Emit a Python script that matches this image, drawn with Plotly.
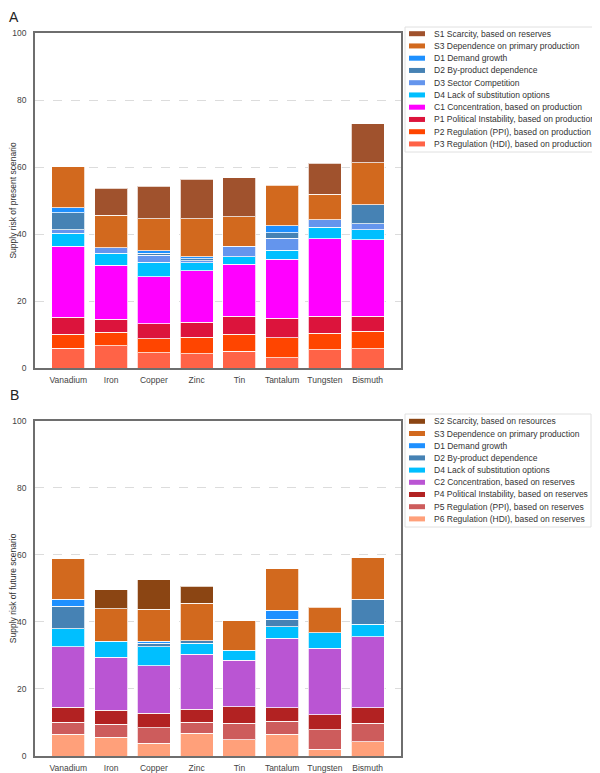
import plotly.graph_objects as go

metals = ["Vanadium", "Iron", "Copper", "Zinc", "Tin", "Tantalum", "Tungsten", "Bismuth"]

# ---- Present scenario (A), stacking order bottom -> top ----
p3_hdi_prod = [5.9, 6.6, 4.5, 4.3, 5.0, 3.0, 5.5, 5.7]
p2_ppi_prod = [4.2, 4.0, 4.3, 4.9, 5.1, 6.1, 4.9, 5.2]
p1_pol_prod = [5.0, 4.0, 4.4, 4.4, 5.3, 5.8, 5.0, 4.5]
c1_conc_prod = [21.2, 16.1, 14.1, 15.5, 15.5, 17.6, 23.2, 22.9]
d4_subst_a = [3.9, 3.5, 4.3, 2.3, 2.3, 2.7, 3.4, 2.9]
d3_sector = [1.0, 1.7, 2.0, 0.6, 3.2, 3.5, 2.3, 1.9]
d2_byprod_a = [5.2, 0.0, 0.6, 0.6, 0.0, 1.7, 0.0, 5.6]
d1_demand_a = [1.5, 0.0, 0.8, 0.6, 0.0, 2.0, 0.0, 0.0]
s3_primary_a = [12.2, 9.7, 9.6, 11.3, 8.8, 12.2, 7.5, 12.5]
s1_scarcity = [0.0, 8.1, 9.6, 11.8, 11.6, 0.0, 9.3, 11.7]

# ---- Future scenario (B), stacking order bottom -> top ----
p6_hdi_res = [6.5, 5.6, 3.8, 6.8, 4.8, 6.5, 2.0, 4.3]
p5_ppi_res = [3.5, 3.8, 4.6, 3.2, 4.9, 3.9, 5.8, 5.4]
p4_pol_res = [4.5, 4.3, 4.3, 3.9, 5.0, 4.0, 4.5, 4.7]
c2_conc_res = [18.1, 15.8, 14.2, 16.5, 13.9, 20.7, 19.9, 21.1]
d4_subst_b = [5.3, 4.7, 5.7, 3.2, 3.0, 3.5, 4.5, 3.8]
d2_byprod_b = [6.8, 0.0, 1.0, 0.7, 0.0, 2.2, 0.0, 7.5]
d1_demand_b = [2.1, 0.0, 0.6, 0.0, 0.0, 2.6, 0.0, 0.0]
s3_primary_b = [12.1, 9.7, 9.6, 11.3, 8.8, 12.4, 7.6, 12.4]
s2_scarcity = [0.0, 5.7, 8.7, 5.0, 0.0, 0.0, 0.0, 0.0]

series_a = [
    ("P3 Regulation (HDI), based on production", p3_hdi_prod, "#FF6347"),
    ("P2 Regulation (PPI), based on production", p2_ppi_prod, "#FF4500"),
    ("P1 Political Instability, based on production", p1_pol_prod, "#DC143C"),
    ("C1 Concentration, based on production", c1_conc_prod, "#FF00FF"),
    ("D4 Lack of substitution options", d4_subst_a, "#00BFFF"),
    ("D3 Sector Competition", d3_sector, "#6495ED"),
    ("D2 By-product dependence", d2_byprod_a, "#4682B4"),
    ("D1 Demand growth", d1_demand_a, "#1E90FF"),
    ("S3 Dependence on primary production", s3_primary_a, "#D2691E"),
    ("S1 Scarcity, based on reserves", s1_scarcity, "#A0522D"),
]
series_b = [
    ("P6 Regulation (HDI), based on reserves", p6_hdi_res, "#FFA07A"),
    ("P5 Regulation (PPI), based on reserves", p5_ppi_res, "#CD5C5C"),
    ("P4 Political Instability, based on reserves", p4_pol_res, "#B22222"),
    ("C2 Concentration, based on reserves", c2_conc_res, "#BA55D3"),
    ("D4 Lack of substitution options", d4_subst_b, "#00BFFF"),
    ("D2 By-product dependence", d2_byprod_b, "#4682B4"),
    ("D1 Demand growth", d1_demand_b, "#1E90FF"),
    ("S3 Dependence on primary production", s3_primary_b, "#D2691E"),
    ("S2 Scarcity, based on resources", s2_scarcity, "#8B4513"),
]

y_titles = ["Supply risk of present scenario", "Supply risk of future scenario"]
panel_letters = ["A", "B"]

# page is rendered with the default 8px body margin: figure sized to fill the rest
OFF = 8
W, H = 600 - OFF, 773 - OFF
PLOT_L, PLOT_R, PLOT_T, PLOT_B = 35, 401, 33, 756   # page pixel coords of plot area
ML = PLOT_L - OFF
MR = W - (PLOT_R - OFF)
MT = PLOT_T - OFF
MB = H - (PLOT_B - OFF)
PW = W - ML - MR
PH = H - MT - MB


def px_x(x):
    return (x - OFF - ML) / PW


def px_y(y):
    return (H - MB - (y - OFF)) / PH


FONT = "Liberation Sans, Arial, sans-serif"
FS = 8.5

fig = go.Figure()
for name, vals, col in series_a:
    fig.add_trace(go.Bar(
        x=metals, y=[v if v > 0 else None for v in vals], name=name,
        marker=dict(color=col, line=dict(color="rgba(255,255,255,0.75)", width=1)),
        xaxis="x", yaxis="y", showlegend=False,
    ))
for name, vals, col in series_b:
    fig.add_trace(go.Bar(
        x=metals, y=[v if v > 0 else None for v in vals], name=name,
        marker=dict(color=col, line=dict(color="rgba(255,255,255,0.75)", width=1)),
        xaxis="x2", yaxis="y2", showlegend=False,
    ))

axis_common = dict(showline=True, mirror=True, linecolor="#6e6e6e", linewidth=1.5,
                   automargin=False,
                   tickfont=dict(family=FONT, size=FS, color="#444"))
xa = dict(range=[-0.78, 7.78], ticks="outside", ticklen=3, tickcolor="rgba(0,0,0,0)",
          showgrid=False, **axis_common)
ya = dict(range=[0, 100], dtick=20, ticks="outside", ticklen=5, tickcolor="rgba(0,0,0,0)",
          showgrid=True, gridcolor="#dcdcdc", griddash="dash", gridwidth=1, zeroline=False,
          **axis_common)

fig.update_layout(
    width=W, height=H, autosize=False,
    margin=dict(l=ML, r=MR, t=MT, b=MB),
    paper_bgcolor="white", plot_bgcolor="white",
    barmode="stack", bargap=0.23,
    font=dict(family=FONT, size=FS, color="#333"),
    xaxis=dict(domain=[0, 1], anchor="y", **xa),
    yaxis=dict(domain=[px_y(368), 1], anchor="x",
               title=dict(text=y_titles[0], font=dict(family=FONT, size=FS, color="#333")), **ya),
    xaxis2=dict(domain=[0, 1], anchor="y2", **xa),
    yaxis2=dict(domain=[0, px_y(420.7)], anchor="x2",
                title=dict(text=y_titles[1], font=dict(family=FONT, size=FS, color="#333")), **ya),
)

shapes = []
annotations = []


def add_legend(series, box_top, box_bottom, box_right, first_center, step):
    shapes.append(dict(type="rect", xref="paper", yref="paper",
                       x0=px_x(405), x1=px_x(box_right), y0=px_y(box_bottom), y1=px_y(box_top),
                       line=dict(color="#e0e0e0", width=1), fillcolor="white", layer="above"))
    for i, (name, vals, col) in enumerate(reversed(series)):
        cy = first_center + i * step
        shapes.append(dict(type="rect", xref="paper", yref="paper",
                           x0=px_x(409), x1=px_x(425), y0=px_y(cy + 2.5), y1=px_y(cy - 2.5),
                           line=dict(width=0), fillcolor=col, layer="above"))
        annotations.append(dict(xref="paper", yref="paper", x=px_x(432), y=px_y(cy),
                                text=name, showarrow=False, xanchor="left", yanchor="middle",
                                font=dict(family=FONT, size=FS, color="#333")))


add_legend(series_a, 27, 152, 598, 33.7, 12.25)
add_legend(series_b, 414, 527, 591, 421.3, 12.2)

# panel letters ("A" sits at the very top edge of the drawable page area)
annotations.append(dict(xref="paper", yref="paper", x=px_x(8), y=px_y(OFF), text=panel_letters[0],
                        showarrow=False, xanchor="left", yanchor="top", borderpad=0,
                        font=dict(family=FONT, size=14, color="#222")))
annotations.append(dict(xref="paper", yref="paper", x=px_x(8), y=px_y(395), text=panel_letters[1],
                        showarrow=False, xanchor="left", yanchor="middle",
                        font=dict(family=FONT, size=14, color="#222")))

fig.update_layout(shapes=shapes, annotations=annotations)
fig.write_html("out.html")
